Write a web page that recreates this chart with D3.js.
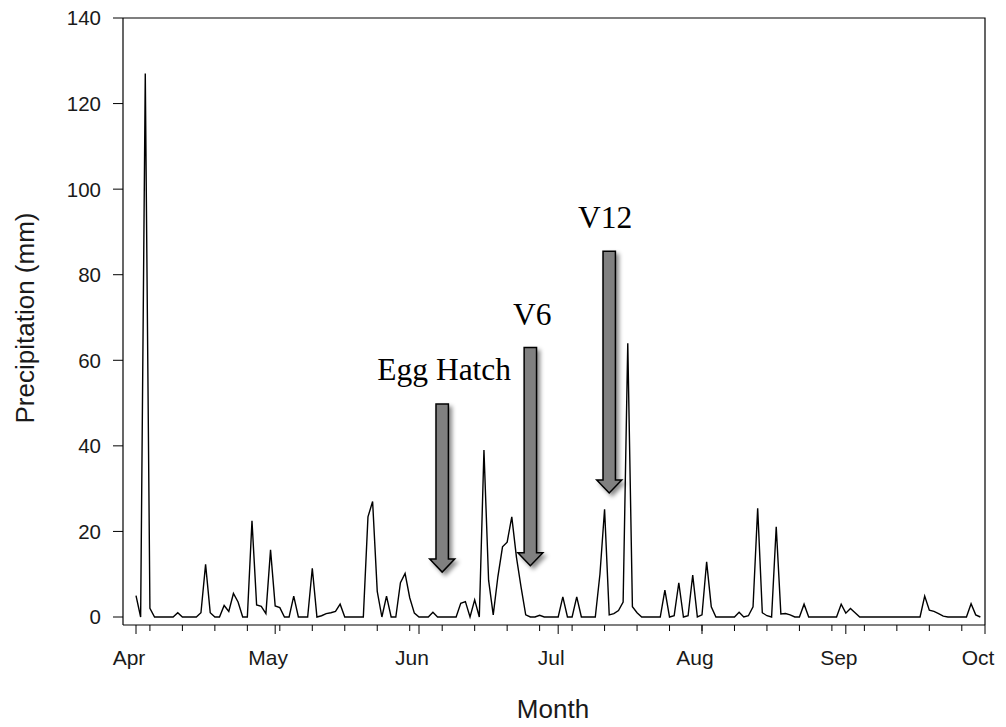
<!DOCTYPE html>
<html>
<head>
<meta charset="utf-8">
<script src="https://cdn.jsdelivr.net/npm/d3@7"></script>
<style>
  html, body { margin: 0; padding: 0; background: #fff; }
  svg { display: block; }
</style>
</head>
<body>
<svg id="chart" width="1006" height="727"></svg>
<script>
// Daily precipitation (mm), 1 April through 30 September
const seasonStart = "2010-04-01";
const seasonEnd = "2010-10-01";
const precipitation = [
  5, 0, 127, 2, 0, 0, 0, 0, 0, 1.0,
  0, 0, 0, 0, 1, 12.3, 1, 0, 0, 2.7,
  1.3, 5.5, 3.5, 0, 0, 22.5, 2.8, 2.5, 0.8, 15.7,
  2.6, 2.2, 0, 0, 4.9, 0, 0, 0, 11.4, 0,
  0.3, 0.8, 1.0, 1.3, 3.0, 0, 0, 0, 0, 0,
  23.4, 27, 6, 0, 4.9, 0, 0, 8, 10.2, 4.5,
  0.9, 0, 0, 0, 1.1, 0, 0, 0, 0, 0,
  3.2, 3.6, 0, 4.0, 0, 39, 8.6, 0.5, 9.4, 16.4,
  17.5, 23.4, 14, 7, 0.5, 0, 0, 0.4, 0, 0,
  0, 0, 4.7, 0, 0, 4.7, 0, 0, 0, 0,
  10, 25.2, 0.5, 0.8, 1.5, 3.5, 64, 2.4, 1, 0,
  0, 0, 0, 0, 6.3, 0, 0.3, 8, 0, 0.3,
  9.8, 0, 0.5, 12.9, 2.4, 0, 0, 0, 0, 0,
  1.1, 0, 0.3, 2.4, 25.4, 1, 0.3, 0, 21.1, 0.7,
  0.8, 0.5, 0, 0, 3.0, 0, 0, 0, 0, 0,
  0, 0, 3.0, 0.9, 2.0, 1.0, 0, 0, 0, 0,
  0, 0, 0, 0, 0, 0, 0, 0, 0, 0,
  4.9, 1.6, 1.3, 0.8, 0.2, 0, 0, 0, 0, 0,
  3.1, 0.5, 0
];
const yTicks = [0, 20, 40, 60, 80, 100, 120, 140];
const monthLabels = ["Apr", "May", "Jun", "Jul", "Aug", "Sep", "Oct"];

// Crop growth-stage markers: day offset from 1 April, arrow top/tip and label height in mm
const stageLabels = ["Egg Hatch", "V6", "V12"];
const stageDays = [66.7, 85.5, 102];
const stageArrowTop = [49.8, 63, 85.5];
const stageArrowTip = [10.5, 12, 29];
const stageLabelAt = [55.4, 68.2, 91];

const svg = d3.select("#chart");
const frame = { left: 123, right: 985, top: 18, bottom: 625 };

const parse = d3.utcParse("%Y-%m-%d");
const t0 = parse(seasonStart), t1 = parse(seasonEnd);
const days = precipitation.map((v, i) => ({ date: d3.utcDay.offset(t0, i), value: v }));

const x = d3.scaleUtc().domain([t0, t1]).range([136, 985]);
const y = d3.scaleLinear().domain([0, 140]).range([617, 18]);

const defs = svg.append("defs");
const shadow = defs.append("filter").attr("id", "arrowShadow")
  .attr("x", "-50%").attr("y", "-20%").attr("width", "200%").attr("height", "140%");
shadow.append("feDropShadow")
  .attr("dx", 3).attr("dy", 3).attr("stdDeviation", 2.2)
  .attr("flood-color", "#000").attr("flood-opacity", 0.45);

// Plot frame: top and right edges
svg.append("path")
  .attr("d", `M${frame.left},${frame.top}H${frame.right}V${frame.bottom}`)
  .attr("fill", "none").attr("stroke", "#000").attr("stroke-width", 1.2);

// Y axis
const yAxis = svg.append("g").attr("transform", `translate(${frame.left},0)`);
yAxis.append("line").attr("x1", 0).attr("x2", 0).attr("y1", frame.top).attr("y2", frame.bottom)
  .attr("stroke", "#000").attr("stroke-width", 1.2);
yAxis.selectAll("line.tick").data(yTicks).join("line").attr("class", "tick")
  .attr("x1", -10).attr("x2", 0).attr("y1", d => y(d)).attr("y2", d => y(d))
  .attr("stroke", "#000").attr("stroke-width", 1);
yAxis.selectAll("text").data(yTicks).join("text")
  .attr("x", -22).attr("y", d => y(d)).attr("dy", "0.36em")
  .attr("text-anchor", "end")
  .attr("font-family", "'Liberation Sans', Arial, sans-serif").attr("font-size", 20.5)
  .attr("fill", "#1a1a1a").text(d => d);

// X axis: month ticks (long) and weekly ticks (short)
const xAxis = svg.append("g").attr("transform", `translate(0,${frame.bottom})`);
xAxis.append("line").attr("x1", frame.left).attr("x2", frame.right).attr("y1", 0).attr("y2", 0)
  .attr("stroke", "#000").attr("stroke-width", 1.2);
const months = d3.utcMonth.range(t0, d3.utcDay.offset(t1, 1));
const weeks = d3.utcWeek.range(t0, t1);
xAxis.selectAll("line.week").data(weeks).join("line").attr("class", "week")
  .attr("x1", d => x(d)).attr("x2", d => x(d)).attr("y1", 0).attr("y2", 6)
  .attr("stroke", "#000").attr("stroke-width", 1);
xAxis.selectAll("line.month").data(months).join("line").attr("class", "month")
  .attr("x1", d => x(d)).attr("x2", d => x(d)).attr("y1", 0).attr("y2", 9)
  .attr("stroke", "#000").attr("stroke-width", 1);
xAxis.selectAll("text").data(months).join("text")
  .attr("x", d => x(d) - 7).attr("y", 40)
  .attr("text-anchor", "middle")
  .attr("font-family", "'Liberation Sans', Arial, sans-serif").attr("font-size", 21)
  .attr("fill", "#1a1a1a").text((d, i) => monthLabels[i]);

// Axis titles
svg.append("text").attr("x", 553).attr("y", 718).attr("text-anchor", "middle")
  .attr("font-family", "'Liberation Sans', Arial, sans-serif").attr("font-size", 26)
  .attr("fill", "#1a1a1a").text("Month");
svg.append("text").attr("transform", "translate(34,318) rotate(-90)").attr("text-anchor", "middle")
  .attr("font-family", "'Liberation Sans', Arial, sans-serif").attr("font-size", 26)
  .attr("fill", "#1a1a1a").text("Precipitation (mm)");

// Precipitation series
const line = d3.line().x(d => x(d.date)).y(d => y(d.value));
svg.append("path").datum(days)
  .attr("d", line).attr("fill", "none")
  .attr("stroke", "#000").attr("stroke-width", 1.4).attr("stroke-linejoin", "miter");

// Growth-stage arrows and labels
const shaftHalf = 6.2, headHalf = 12.5, headLen = 13;
stageLabels.forEach((label, i) => {
  const cx = x(d3.utcDay.offset(t0, stageDays[i]));
  const top = y(stageArrowTop[i]), tip = y(stageArrowTip[i]);
  const p = d3.path();
  p.moveTo(cx - shaftHalf, top);
  p.lineTo(cx + shaftHalf, top);
  p.lineTo(cx + shaftHalf, tip - headLen);
  p.lineTo(cx + headHalf, tip - headLen);
  p.lineTo(cx, tip);
  p.lineTo(cx - headHalf, tip - headLen);
  p.lineTo(cx - shaftHalf, tip - headLen);
  p.closePath();
  svg.append("path").attr("d", p.toString())
    .attr("fill", "#808080").attr("stroke", "#000").attr("stroke-width", 1.5)
    .attr("stroke-linejoin", "miter").attr("filter", "url(#arrowShadow)");
  svg.append("text")
    .attr("x", cx + (i === 2 ? -4 : 2)).attr("y", y(stageLabelAt[i]))
    .attr("text-anchor", "middle")
    .attr("font-family", "'Liberation Serif', 'Times New Roman', serif").attr("font-size", 31.5)
    .attr("fill", "#000").text(label);
});
</script>
</body>
</html>
